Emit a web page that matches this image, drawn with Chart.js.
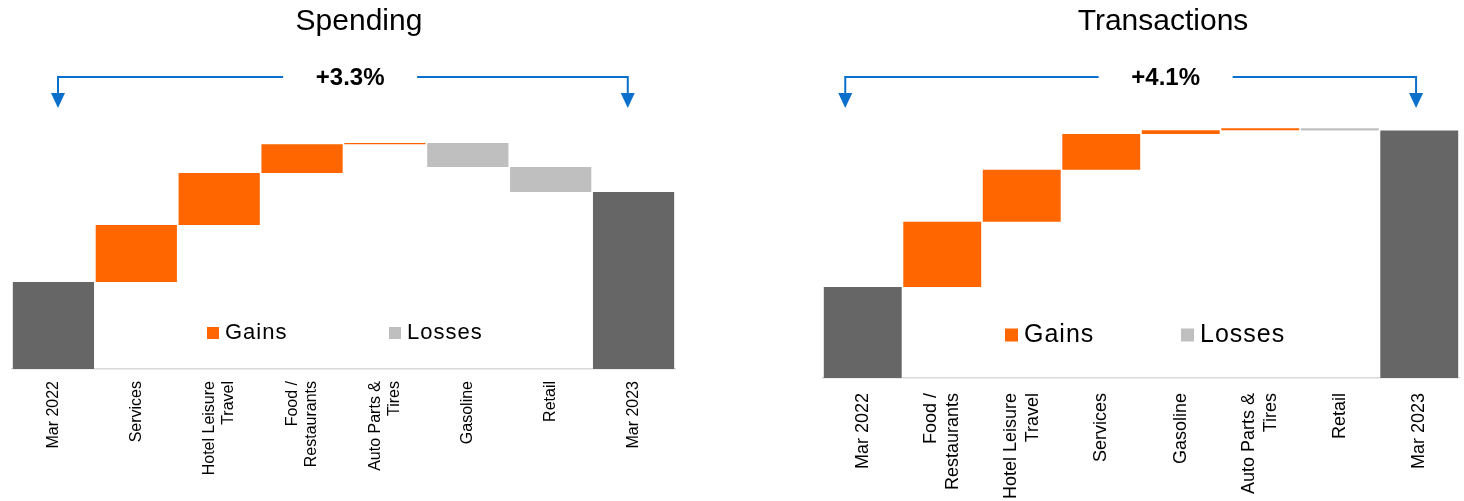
<!DOCTYPE html>
<html>
<head>
<meta charset="utf-8">
<script src="https://cdn.jsdelivr.net/npm/chart.js@4/dist/chart.umd.min.js"></script>
<style>
  html, body { margin: 0; padding: 0; background: #fff; overflow: hidden; width: 1464px; height: 501px; }
  canvas { position: absolute; top: 0; }
  #spend { left: 0; }
  #trans { left: 800px; }
</style>
</head>
<body>
<canvas id="spend" width="720" height="501"></canvas>
<canvas id="trans" width="703" height="501"></canvas>
<script>
// March 2022 index level (= 100) and each category's contribution, in percentage points
const startLabel = 'Mar 2022';
const endLabel = 'Mar 2023';

const spendStart = 100;
const spendCategories = ['Services', ['Hotel Leisure', 'Travel'], ['Food /', 'Restaurants'], ['Auto Parts &', 'Tires'], 'Gasoline', 'Retail'];
const spendChanges = [2.09, 1.91, 1.05, 0.05, -0.88, -0.92];

const transStart = 100;
const transCategories = [['Food /', 'Restaurants'], ['Hotel Leisure', 'Travel'], 'Services', 'Gasoline', ['Auto Parts &', 'Tires'], 'Retail'];
const transChanges = [1.71, 1.36, 0.94, 0.10, 0.05, -0.06];

const legendLabels = ['Gains', 'Losses'];

const COLORS = { total: '#666666', gain: '#FF6600', loss: '#BFBFBF', arrow: '#0B6FCC' };

Chart.defaults.font.family = "'Liberation Sans', Arial, sans-serif";

// Turn a start level and a list of changes into floating bar ranges
function waterfall(start, changes) {
  const totals = [start], gains = [null], losses = [null];
  let level = start;
  changes.forEach(d => {
    const next = level + d;
    totals.push(null);
    gains.push(d >= 0 ? [level, next] : null);
    losses.push(d < 0 ? [next, level] : null);
    level = next;
  });
  totals.push(level); gains.push(null); losses.push(null);
  return { totals, gains, losses, end: level };
}

function pctLabel(start, end) {
  const p = (end / start - 1) * 100;
  return (p >= 0 ? '+' : '') + p.toFixed(1) + '%';
}

// Bracket arrow with the overall change, inline legend, and centred two-line tick labels
const waterfallDecor = {
  id: 'waterfallDecor',
  beforeDraw(chart) {
    const xs = chart.scales.x;
    xs.getLabelItems().forEach(item => {
      if (Array.isArray(item.label) && !item._centred) {
        item.options.translation[0] -= (item.label.length - 1) * item.font.lineHeight / 2;
        item._centred = true;
      }
    });
  },
  afterDraw(chart, args, o) {
    const ctx = chart.ctx;
    const xs = chart.scales.x;
    const area = chart.chartArea;
    const xa = xs.getPixelForValue(o.arrowFrom);
    const xb = xs.getPixelForValue(o.arrowTo);
    const xl = xs.getPixelForValue(o.labelAt);
    const lineY = 77, tipY = 108, headH = 15, headW = 7, gap = 67;

    ctx.save();
    ctx.strokeStyle = COLORS.arrow;
    ctx.fillStyle = COLORS.arrow;
    ctx.lineWidth = 2;
    ctx.beginPath();
    ctx.moveTo(xa, tipY - headH + 1);
    ctx.lineTo(xa, lineY);
    ctx.lineTo(xl - gap, lineY);
    ctx.moveTo(xl + gap, lineY);
    ctx.lineTo(xb, lineY);
    ctx.lineTo(xb, tipY - headH + 1);
    ctx.stroke();
    [xa, xb].forEach(x => {
      ctx.beginPath();
      ctx.moveTo(x - headW, tipY - headH);
      ctx.lineTo(x + headW, tipY - headH);
      ctx.lineTo(x, tipY);
      ctx.closePath();
      ctx.fill();
    });

    ctx.fillStyle = '#000';
    ctx.font = "bold 24px 'Liberation Sans', Arial, sans-serif";
    ctx.textAlign = 'center';
    ctx.textBaseline = 'middle';
    ctx.fillText(o.text, xl, lineY + 1);

    // legend for the change series, drawn inside the plot
    const lg = o.legend;
    ctx.font = lg.fontSize + "px 'Liberation Sans', Arial, sans-serif";
    ctx.textAlign = 'left';
    if ('letterSpacing' in ctx) ctx.letterSpacing = '1px';
    legendLabels.forEach((name, i) => {
      const ds = chart.data.datasets.find(d => d.label === name);
      const bx = area.left + lg.offsets[i];
      ctx.fillStyle = ds.backgroundColor;
      ctx.fillRect(bx, lg.y - lg.box / 2, lg.box, lg.box);
      ctx.fillStyle = '#000';
      ctx.fillText(name, bx + lg.box + lg.gap, lg.y);
    });
    ctx.restore();
  }
};

function makeChart(id, title, categories, start, changes, cfg) {
  const w = waterfall(start, changes);
  return new Chart(document.getElementById(id), {
    type: 'bar',
    data: {
      labels: [startLabel, ...categories, endLabel],
      datasets: [
        { label: 'Totals', data: w.totals, backgroundColor: COLORS.total },
        { label: 'Gains', data: w.gains, backgroundColor: COLORS.gain },
        { label: 'Losses', data: w.losses, backgroundColor: COLORS.loss }
      ]
    },
    options: {
      responsive: false,
      animation: false,
      events: [],
      datasets: { bar: { grouped: false, barPercentage: 0.98, categoryPercentage: 1, borderWidth: 0 } },
      layout: { padding: { left: cfg.padL, right: cfg.padR, top: 0, bottom: 0 } },
      scales: {
        x: {
          grid: { display: false, drawTicks: false },
          border: { display: true, color: '#D9D9D9', width: 1.5 },
          ticks: { autoSkip: false, minRotation: 90, maxRotation: 90, padding: cfg.tickPad, color: '#000', font: { size: cfg.tickSize } },
          afterFit: s => { s.height = cfg.axisH; }
        },
        y: {
          position: 'right',
          min: cfg.yMin, max: cfg.yMax,
          ticks: { display: false },
          grid: { display: false },
          border: { display: false },
          afterFit: s => { s.width = cfg.yW; }
        }
      },
      plugins: {
        legend: { display: false },
        tooltip: { enabled: false },
        title: {
          display: true, text: title, color: '#000',
          font: { size: 30, weight: 'normal' },
          padding: { top: 4, bottom: 70 }
        },
        waterfallDecor: {
          arrowFrom: cfg.arrowFrom, arrowTo: cfg.arrowTo, labelAt: cfg.labelAt,
          text: pctLabel(start, w.end),
          legend: cfg.legend
        }
      }
    },
    plugins: [waterfallDecor]
  });
}

makeChart('spend', 'Spending', spendCategories, spendStart, spendChanges, {
  padL: 12, padR: 14, yW: 31, axisH: 132, tickPad: 12, tickSize: 16,
  yMin: 96.81, yMax: 106.31,
  arrowFrom: 0.055, arrowTo: 6.93, labelAt: 3.58,
  legend: { offsets: [195, 377], y: 333, box: 12, gap: 6, fontSize: 22 }
});

makeChart('trans', 'Transactions', transCategories, transStart, transChanges, {
  padL: 23, padR: 0, yW: 44, axisH: 123, tickPad: 15, tickSize: 18,
  yMin: 97.61, yMax: 104.64,
  arrowFrom: -0.22, arrowTo: 6.96, labelAt: 3.81,
  legend: { offsets: [182, 358], y: 335, box: 13, gap: 6, fontSize: 25 }
});
</script>
</body>
</html>
